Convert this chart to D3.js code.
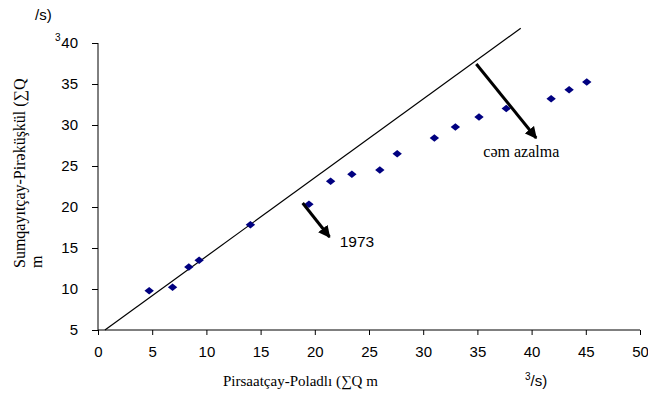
<!DOCTYPE html>
<html>
<head>
<meta charset="utf-8">
<script src="https://cdn.jsdelivr.net/npm/d3@7"></script>
<style>
  body { margin: 0; background: #fff; }
</style>
</head>
<body>
<div id="chart"></div>
<script>
// Pirsaatçay-Poladlı vs Sumqayıtçay-Pirəküşkül cumulative discharge
const xValues = [4.72, 6.88, 8.38, 9.33, 14.06, 19.46, 21.46, 23.42, 26.0, 27.6, 31.03, 32.97, 35.15, 37.66, 41.8, 43.46, 45.09];
const yValues = [9.79, 10.2, 12.68, 13.5, 17.84, 20.33, 23.13, 24.0, 24.5, 26.5, 28.4, 29.75, 30.97, 32.0, 33.2, 34.3, 35.24];

// trend line (two ends)
const lineX = [0.64, 39.0];
const lineY = [5, 41.8];

const xTicks = [0, 5, 10, 15, 20, 25, 30, 35, 40, 45, 50];
const yTicks = [5, 10, 15, 20, 25, 30, 35, 40];

// annotation arrows, in data units: [x1, y1, x2, y2]
const arrows = [
  [18.88, 20.49, 21.36, 16.34],
  [34.9, 37.44, 40.42, 28.41]
];

const SANS = "'Liberation Sans', Arial, sans-serif";
const SERIF = "'Liberation Serif', 'Times New Roman', serif";

const width = 648, height = 395;
const margin = {top: 43, right: 8, bottom: 65, left: 98};

const svg = d3.select("#chart").append("svg")
  .attr("width", width)
  .attr("height", height);

const xScale = d3.scaleLinear()
  .domain([0, 50])
  .range([margin.left, width - margin.right]);

const yScale = d3.scaleLinear()
  .domain([5, 40])
  .range([height - margin.bottom, margin.top]);

svg.append("defs").append("marker")
  .attr("id", "head")
  .attr("viewBox", "0 0 10 10")
  .attr("refX", 9)
  .attr("refY", 5)
  .attr("markerWidth", 4)
  .attr("markerHeight", 4)
  .attr("markerUnits", "strokeWidth")
  .attr("orient", "auto")
  .append("path")
  .attr("d", "M0,0 L10,5 L0,10 Z")
  .attr("fill", "#000");

const xAxis = d3.axisBottom(xScale).tickValues(xTicks).tickSize(5).tickPadding(11);
const yAxis = d3.axisLeft(yScale).tickValues(yTicks).tickSize(6).tickPadding(14);

svg.append("g")
  .attr("transform", `translate(0,${height - margin.bottom})`)
  .call(xAxis)
  .call(g => g.select(".domain").attr("d", `M${xScale(0)},0H${xScale(50)}`));

svg.append("g")
  .attr("transform", `translate(${margin.left},0)`)
  .call(yAxis)
  .call(g => g.select(".domain").attr("d", `M0,${yScale(5)}V${yScale(40)}`));

svg.selectAll(".tick line").attr("stroke", "#000");
svg.selectAll(".domain").attr("stroke", "#000");
svg.selectAll(".tick text")
  .attr("fill", "#000")
  .attr("font-family", SANS)
  .attr("font-size", 15);

// trend line
const line = d3.line()
  .x(d => xScale(d[0]))
  .y(d => yScale(d[1]));

svg.append("path")
  .attr("d", line(d3.zip(lineX, lineY)))
  .attr("fill", "none")
  .attr("stroke", "#000")
  .attr("stroke-width", 1.2);

// points
const diamond = d3.symbol().type(d3.symbolSquare).size(44);
svg.selectAll(".pt")
  .data(d3.zip(xValues, yValues))
  .join("path")
  .attr("class", "pt")
  .attr("d", diamond)
  .attr("transform", d => `translate(${xScale(d[0])},${yScale(d[1])}) scale(1,0.8) rotate(45)`)
  .attr("fill", "#000080");

// arrows
svg.selectAll(".arrow")
  .data(arrows)
  .join("line")
  .attr("class", "arrow")
  .attr("x1", d => xScale(d[0]))
  .attr("y1", d => yScale(d[1]))
  .attr("x2", d => xScale(d[2]))
  .attr("y2", d => yScale(d[3]))
  .attr("stroke", "#000")
  .attr("stroke-width", 3)
  .attr("marker-end", "url(#head)");

svg.append("text")
  .attr("font-family", SANS)
  .attr("font-size", 15.5)
  .attr("x", xScale(22.3))
  .attr("y", yScale(15.1))
  .text("1973");

svg.append("text")
  .attr("font-family", SERIF)
  .attr("font-size", 16)
  .attr("x", xScale(35.55))
  .attr("y", yScale(26.1))
  .text("cəm azalma");

// x axis title
svg.append("text")
  .attr("font-family", SERIF)
  .attr("font-size", 15)
  .attr("x", 223)
  .attr("y", 386)
  .text("Pirsaatçay-Poladlı (∑Q m");

const xUnit = svg.append("text")
  .attr("font-family", SANS)
  .attr("font-size", 15)
  .attr("x", 525)
  .attr("y", 386);
xUnit.append("tspan").attr("font-size", 10).attr("dy", -6).text("3");
xUnit.append("tspan").attr("dy", 6).text("/s)");

// y axis title (broken across lines as in the original)
svg.append("text")
  .attr("font-family", SERIF)
  .attr("font-size", 16)
  .attr("transform", "translate(25,268) rotate(-90)")
  .text("Sumqayıtçay-Pirəküşkül (∑Q");

svg.append("text")
  .attr("font-family", SERIF)
  .attr("font-size", 16)
  .attr("transform", "translate(42,268) rotate(-90)")
  .text("m");

svg.append("text")
  .attr("font-family", SANS)
  .attr("font-size", 15)
  .attr("x", 35)
  .attr("y", 20)
  .text("/s)");

svg.append("text")
  .attr("font-family", SANS)
  .attr("font-size", 10)
  .attr("x", 55)
  .attr("y", 41)
  .text("3");
</script>
</body>
</html>
